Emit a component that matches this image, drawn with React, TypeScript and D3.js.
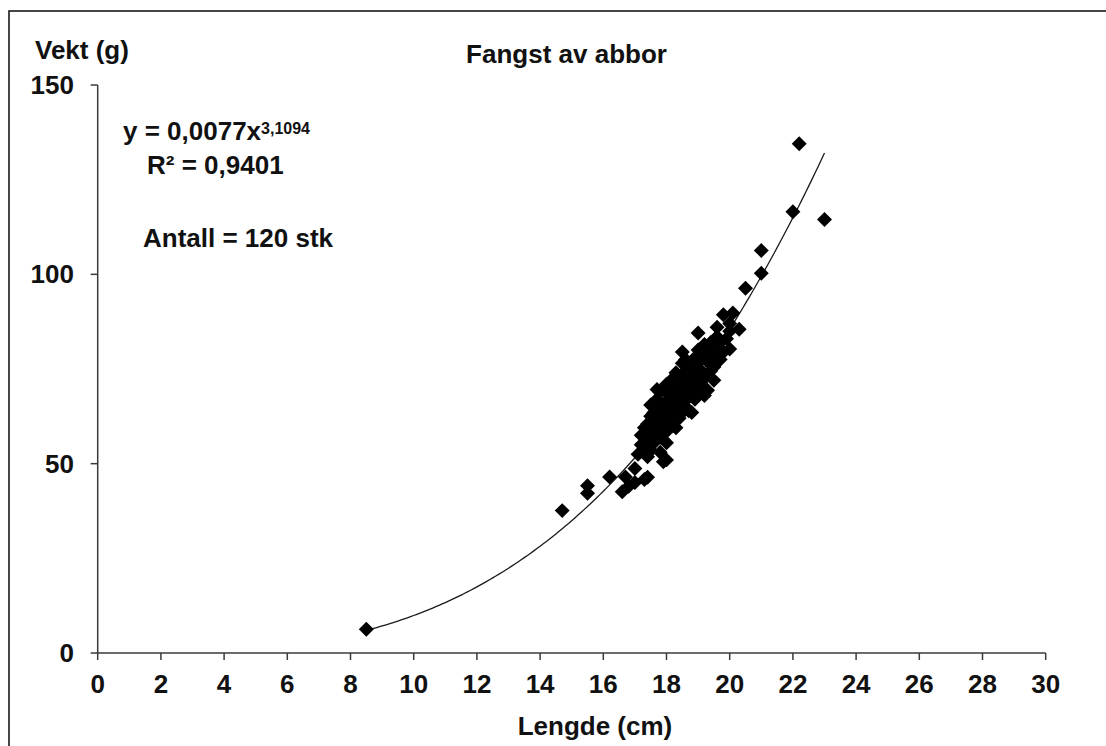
import React from "react";
import * as d3 from "d3";

// Perch catch: length (cm) and weight (g) for each fish
const lengths: number[] = [
  8.5, 14.7, 15.5, 15.5, 16.2, 16.6, 16.7, 16.8, 17.0, 17.0, 17.4, 17.3, 17.9, 18.0,
  22.2, 23.0, 22.0, 21.0, 21.0, 20.5, 19.8, 20.1, 20.3, 20.0, 19.6, 19.0, 20.0, 18.5,
  19.5, 18.5, 19.3, 18.8, 17.7,
  17.1, 17.2, 17.2, 17.3, 17.3, 17.4, 17.4, 17.4, 17.5, 17.5, 17.5, 17.5, 17.6, 17.6,
  17.6, 17.7, 17.7, 17.7, 17.8, 17.8, 17.8, 17.8, 17.9, 17.9, 17.9, 18.0, 18.0, 18.0,
  18.0, 18.0, 18.1, 18.1, 18.1, 18.2, 18.2, 18.2, 18.2, 18.3, 18.3, 18.3, 18.3, 18.4,
  18.4, 18.4, 18.4, 18.5, 18.5, 18.5, 18.5, 18.6, 18.6, 18.6, 18.6, 18.7, 18.7, 18.7,
  18.7, 18.8, 18.8, 18.8, 18.9, 18.9, 18.9, 18.9, 19.0, 19.0, 19.0, 19.0, 19.1, 19.1,
  19.1, 19.2, 19.2, 19.2, 19.3, 19.3, 19.4, 19.4, 19.5, 19.5, 19.6, 19.6, 19.7, 19.7,
  19.8, 19.9, 20.0,
];
const weights: number[] = [
  6.3, 37.6, 44.2, 42.2, 46.5, 42.6, 46.5, 44.0, 45.0, 48.7, 46.4, 45.8, 50.5, 51.0,
  134.5, 114.5, 116.5, 106.3, 100.3, 96.3, 89.3, 89.8, 85.5, 85.0, 86.0, 84.5, 80.3, 79.5,
  75.5, 76.5, 69.4, 63.5, 69.6,
  52.5, 55.0, 57.5, 59.5, 54.0, 60.5, 51.8, 56.0, 62.5, 58.0, 65.5, 53.5, 61.0, 63.5,
  55.5, 67.0, 59.0, 64.5, 62.0, 57.0, 69.0, 53.0, 65.5, 60.0, 63.0, 66.5, 61.5, 58.5,
  71.0, 55.5, 64.0, 68.0, 62.5, 72.5, 66.0, 60.0, 69.5, 63.5, 67.5, 74.0, 59.5, 70.5,
  65.0, 62.0, 68.5, 72.0, 66.5, 63.5, 70.0, 74.5, 68.0, 65.0, 77.5, 71.0, 67.5, 73.5,
  64.0, 69.5, 75.5, 72.0, 78.0, 70.5, 67.0, 74.0, 72.5, 80.0, 68.5, 76.5, 74.5, 70.5,
  78.5, 81.5, 72.5, 68.0, 77.0, 79.5, 74.5, 82.0, 78.0, 72.0, 80.0, 83.5, 77.5, 82.0,
  79.5, 83.0, 87.0,
];

// Power trendline y = a * x^b
const fitA = 0.0077;
const fitB = 3.1094;
const fitStart = 8.5;
const fitEnd = 23.0;

const xTicks: number[] = d3.range(0, 31, 2);
const yTicks: number[] = [0, 50, 100, 150];

const chartTitle = "Fangst av abbor";
const xTitle = "Lengde (cm)";
const yTitle = "Vekt (g)";
const countLabel = "Antall = 120 stk";

const W = 1106;
const H = 746;
const FONT = "'Liberation Sans', Arial, sans-serif";

export default function App() {
  const x = d3.scaleLinear().domain([0, 30]).range([97.7, 1045.7]);
  const y = d3.scaleLinear().domain([0, 150]).range([653, 85]);

  const fitXs = d3.range(fitStart, fitEnd + 0.0001, 0.1);
  const fitLine = d3
    .line<number>()
    .x((v) => x(v))
    .y((v) => y(fitA * Math.pow(v, fitB)))(fitXs);

  const diamond = d3.symbol().type(d3.symbolSquare).size(112)();
  const axisColor = "#3a3a3a";

  return (
    <svg
      width={W}
      height={H}
      style={{ position: "fixed", left: 0, top: 0, background: "#fff" }}
      fontFamily={FONT}
      fontWeight="bold"
    >
      <rect x={0} y={0} width={W} height={H} fill="#fff" />
      {/* chart area frame */}
      <rect x={9} y={11} width={W + 40} height={H + 40} fill="none" stroke="#1a1a1a" strokeWidth={1.6} />

      {/* axes */}
      <line x1={x(0)} x2={x(30)} y1={y(0)} y2={y(0)} stroke={axisColor} strokeWidth={1.5} />
      <line x1={x(0)} x2={x(0)} y1={y(0)} y2={y(150)} stroke={axisColor} strokeWidth={1.5} />
      {xTicks.map((t) => (
        <g key={"xt" + t}>
          <line x1={x(t)} x2={x(t)} y1={y(0)} y2={y(0) + 7} stroke={axisColor} strokeWidth={1.5} />
          <text x={x(t)} y={693} textAnchor="middle" fontSize={26} fill="#111">
            {t}
          </text>
        </g>
      ))}
      {yTicks.map((t) => (
        <g key={"yt" + t}>
          <line x1={x(0) - 7} x2={x(0)} y1={y(t)} y2={y(t)} stroke={axisColor} strokeWidth={1.5} />
          <text x={74} y={y(t)} dy="0.35em" textAnchor="end" fontSize={26} fill="#111">
            {t}
          </text>
        </g>
      ))}

      {/* titles */}
      <text x={566.5} y={63} textAnchor="middle" fontSize={26} fill="#111">
        {chartTitle}
      </text>
      <text x={35} y={58.5} fontSize={26} fill="#111">
        {yTitle}
      </text>
      <text x={595} y={735} textAnchor="middle" fontSize={26} fill="#111">
        {xTitle}
      </text>

      {/* fit annotation */}
      <text x={123} y={140} fontSize={26} fill="#111">
        y = 0,0077x
        <tspan fontSize={16} dy={-6}>
          3,1094
        </tspan>
      </text>
      <text x={147} y={174} fontSize={26} fill="#111">
        R² = 0,9401
      </text>
      <text x={143} y={247} fontSize={26} fill="#111">
        {countLabel}
      </text>

      {/* trendline */}
      <path d={fitLine ?? ""} fill="none" stroke="#1a1a1a" strokeWidth={1.3} />

      {/* observations */}
      {lengths.map((l, i) => (
        <path
          key={"p" + i}
          d={diamond ?? ""}
          transform={`translate(${x(l)},${y(weights[i])}) rotate(45)`}
          fill="#000"
        />
      ))}
    </svg>
  );
}
